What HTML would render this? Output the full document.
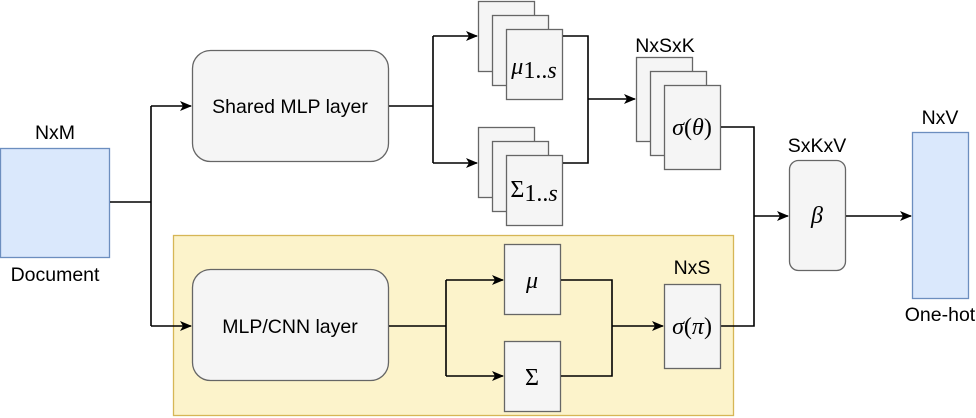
<!DOCTYPE html>
<html><head><meta charset="utf-8"><style>
body{margin:0;background:#fff}
svg{display:block}
text{font-family:"Liberation Sans",sans-serif;font-size:19.5px;fill:#000}
.m{font-family:"Liberation Serif",serif;font-style:italic;font-size:24px}
.r{font-family:"Liberation Serif",serif;font-size:24px}
.b{fill:#f5f5f5;stroke:#666;stroke-width:1.3}
.l{fill:none;stroke:#000;stroke-width:1.6}
</style></head><body>
<svg width="976" height="418" viewBox="0 0 976 418">
<defs><marker id="a" markerWidth="12" markerHeight="10" refX="11" refY="5" orient="auto" markerUnits="userSpaceOnUse"><path d="M0,0 L12,5 L0,10 L3,5 Z" fill="#000"/></marker></defs>
<rect x="173.5" y="235.5" width="560" height="180" fill="#fcf3cb" stroke="#d6b656" stroke-width="1.3"/>
<rect x="0.5" y="148.5" width="109" height="109" fill="#dae8fc" stroke="#6c8ebf" stroke-width="1.3"/>
<text x="55" y="139" text-anchor="middle">NxM</text>
<text x="55" y="281" text-anchor="middle">Document</text>
<rect x="192.5" y="50.5" width="196" height="111" rx="18" class="b"/>
<text x="290" y="113" text-anchor="middle">Shared MLP layer</text>
<rect x="192.5" y="269.5" width="196" height="111" rx="18" class="b"/>
<text x="290" y="333" text-anchor="middle">MLP/CNN layer</text>
<path class="l" d="M110,202 H151 M151,106 V326"/>
<path class="l" d="M151,106 H191" marker-end="url(#a)"/>
<path class="l" d="M151,326 H191" marker-end="url(#a)"/>
<path class="l" d="M389,106 H433 M433,36 V163"/>
<path class="l" d="M433,36 H477" marker-end="url(#a)"/>
<path class="l" d="M433,163 H477" marker-end="url(#a)"/>
<rect x="478.5" y="1.5" width="56" height="70" class="b"/>
<rect x="492.5" y="15.5" width="56" height="70" class="b"/>
<rect x="506.5" y="29.5" width="56" height="70" class="b"/>
<text x="534" y="74" text-anchor="middle"><tspan class="m">μ</tspan><tspan class="r" font-size="14" dy="4">1..</tspan><tspan class="m" font-size="14">s</tspan></text>
<rect x="478.5" y="127.5" width="56" height="70" class="b"/>
<rect x="492.5" y="141.5" width="56" height="70" class="b"/>
<rect x="506.5" y="155.5" width="56" height="70" class="b"/>
<text x="534" y="197" text-anchor="middle"><tspan class="r">Σ</tspan><tspan class="r" font-size="14" dy="4">1..</tspan><tspan class="m" font-size="14">s</tspan></text>
<path class="l" d="M563,36 H588 V163 H563"/>
<path class="l" d="M588,99 H635" marker-end="url(#a)"/>
<text x="665" y="52" text-anchor="middle">NxSxK</text>
<rect x="636.5" y="57.5" width="56" height="84" class="b"/>
<rect x="650.5" y="71.5" width="56" height="84" class="b"/>
<rect x="664.5" y="85.5" width="56" height="84" class="b"/>
<text x="692" y="135" text-anchor="middle" class="r"><tspan class="m">σ</tspan>(<tspan class="m">θ</tspan>)</text>
<path class="l" d="M721,127 H754 V326 H721"/>
<path class="l" d="M754,216 H788" marker-end="url(#a)"/>
<text x="817" y="152" text-anchor="middle">SxKxV</text>
<rect x="789.5" y="160.5" width="56" height="110" rx="9" class="b"/>
<text x="817" y="223" text-anchor="middle" class="m">β</text>
<path class="l" d="M846,216 H911" marker-end="url(#a)"/>
<rect x="912.5" y="132.5" width="56" height="166" fill="#dae8fc" stroke="#6c8ebf" stroke-width="1.3"/>
<text x="940" y="124" text-anchor="middle">NxV</text>
<text x="940" y="321" text-anchor="middle">One-hot</text>
<path class="l" d="M389,326 H446 M446,280 V376"/>
<path class="l" d="M446,280 H503" marker-end="url(#a)"/>
<path class="l" d="M446,376 H503" marker-end="url(#a)"/>
<rect x="504.5" y="244.5" width="56" height="70" class="b"/>
<text x="532" y="288" text-anchor="middle" class="m">μ</text>
<rect x="504.5" y="341.5" width="56" height="70" class="b"/>
<text x="532" y="385" text-anchor="middle" class="r">Σ</text>
<path class="l" d="M561,280 H612 V376 H561"/>
<path class="l" d="M612,326 H663" marker-end="url(#a)"/>
<text x="692" y="274" text-anchor="middle">NxS</text>
<rect x="664.5" y="284.5" width="56" height="84" class="b"/>
<text x="692" y="334" text-anchor="middle" class="r"><tspan class="m">σ</tspan>(<tspan class="m">π</tspan>)</text>
</svg>
</body></html>
